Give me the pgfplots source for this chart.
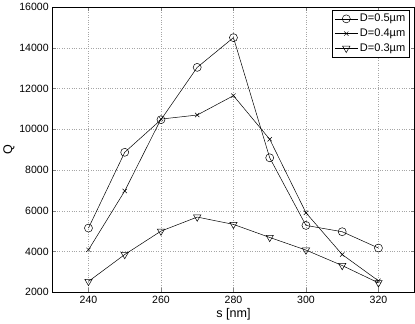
\documentclass[border=0pt]{standalone}
\usepackage{pgfplots}
\pgfplotsset{compat=1.18}
\usepackage{fontspec}
\setmainfont{Liberation Sans}
\begin{document}
\begin{tikzpicture}
\begin{axis}[
  scale only axis,
  width=361pt, height=284pt,
  xmin=230, xmax=330, ymin=2000, ymax=16000,
  xtick={240,260,280,300,320},
  ytick={2000,4000,...,16000},
  scaled ticks=false,
  /pgf/number format/assume math mode=true,
  /pgf/number format/1000 sep={},
  tick label style={font=\fontsize{10.5}{12}\selectfont},
  label style={font=\fontsize{12.5}{14}\selectfont},
  xlabel={s [nm]}, ylabel={Q},
  xlabel style={yshift=2pt},
  ylabel style={yshift=-2pt},
  grid=major,
  major grid style={dotted, gray!70, line width=0.5pt},
  tick align=inside,
  major tick length=4pt,
  axis line style={black, line width=0.6pt},
  every axis plot/.append style={black, line width=0.5pt},
  legend style={at={(0.986,0.99)}, anchor=north east, draw=black, line width=0.6pt,
    font=\fontsize{11}{13}\selectfont, row sep=1.5pt, inner sep=2pt},
  legend image code/.code={\draw[mark repeat=2,mark phase=2] plot coordinates {(0cm,0cm) (0.4cm,0cm) (0.8cm,0cm)};},
  legend cell align=left,
]
\addplot[mark=o, mark size=4pt] coordinates {
(240,5150) (250,8870) (260,10470) (270,13040) (280,14500) (290,8600) (300,5280) (310,4970) (320,4170)};
\addlegendentry{D=0.5µm}
\addplot[mark=x, mark size=3pt] coordinates {
(240,4080) (250,6970) (260,10500) (270,10700) (280,11650) (290,9510) (300,5900) (310,3850) (320,2560)};
\addlegendentry{D=0.4µm}
\addplot[mark=triangle, mark options={rotate=180}, mark size=4.2pt] coordinates {
(240,2530) (250,3850) (260,5000) (270,5690) (280,5330) (290,4690) (300,4070) (310,3310) (320,2460)};
\addlegendentry{D=0.3µm}
\end{axis}
\end{tikzpicture}
\end{document}
